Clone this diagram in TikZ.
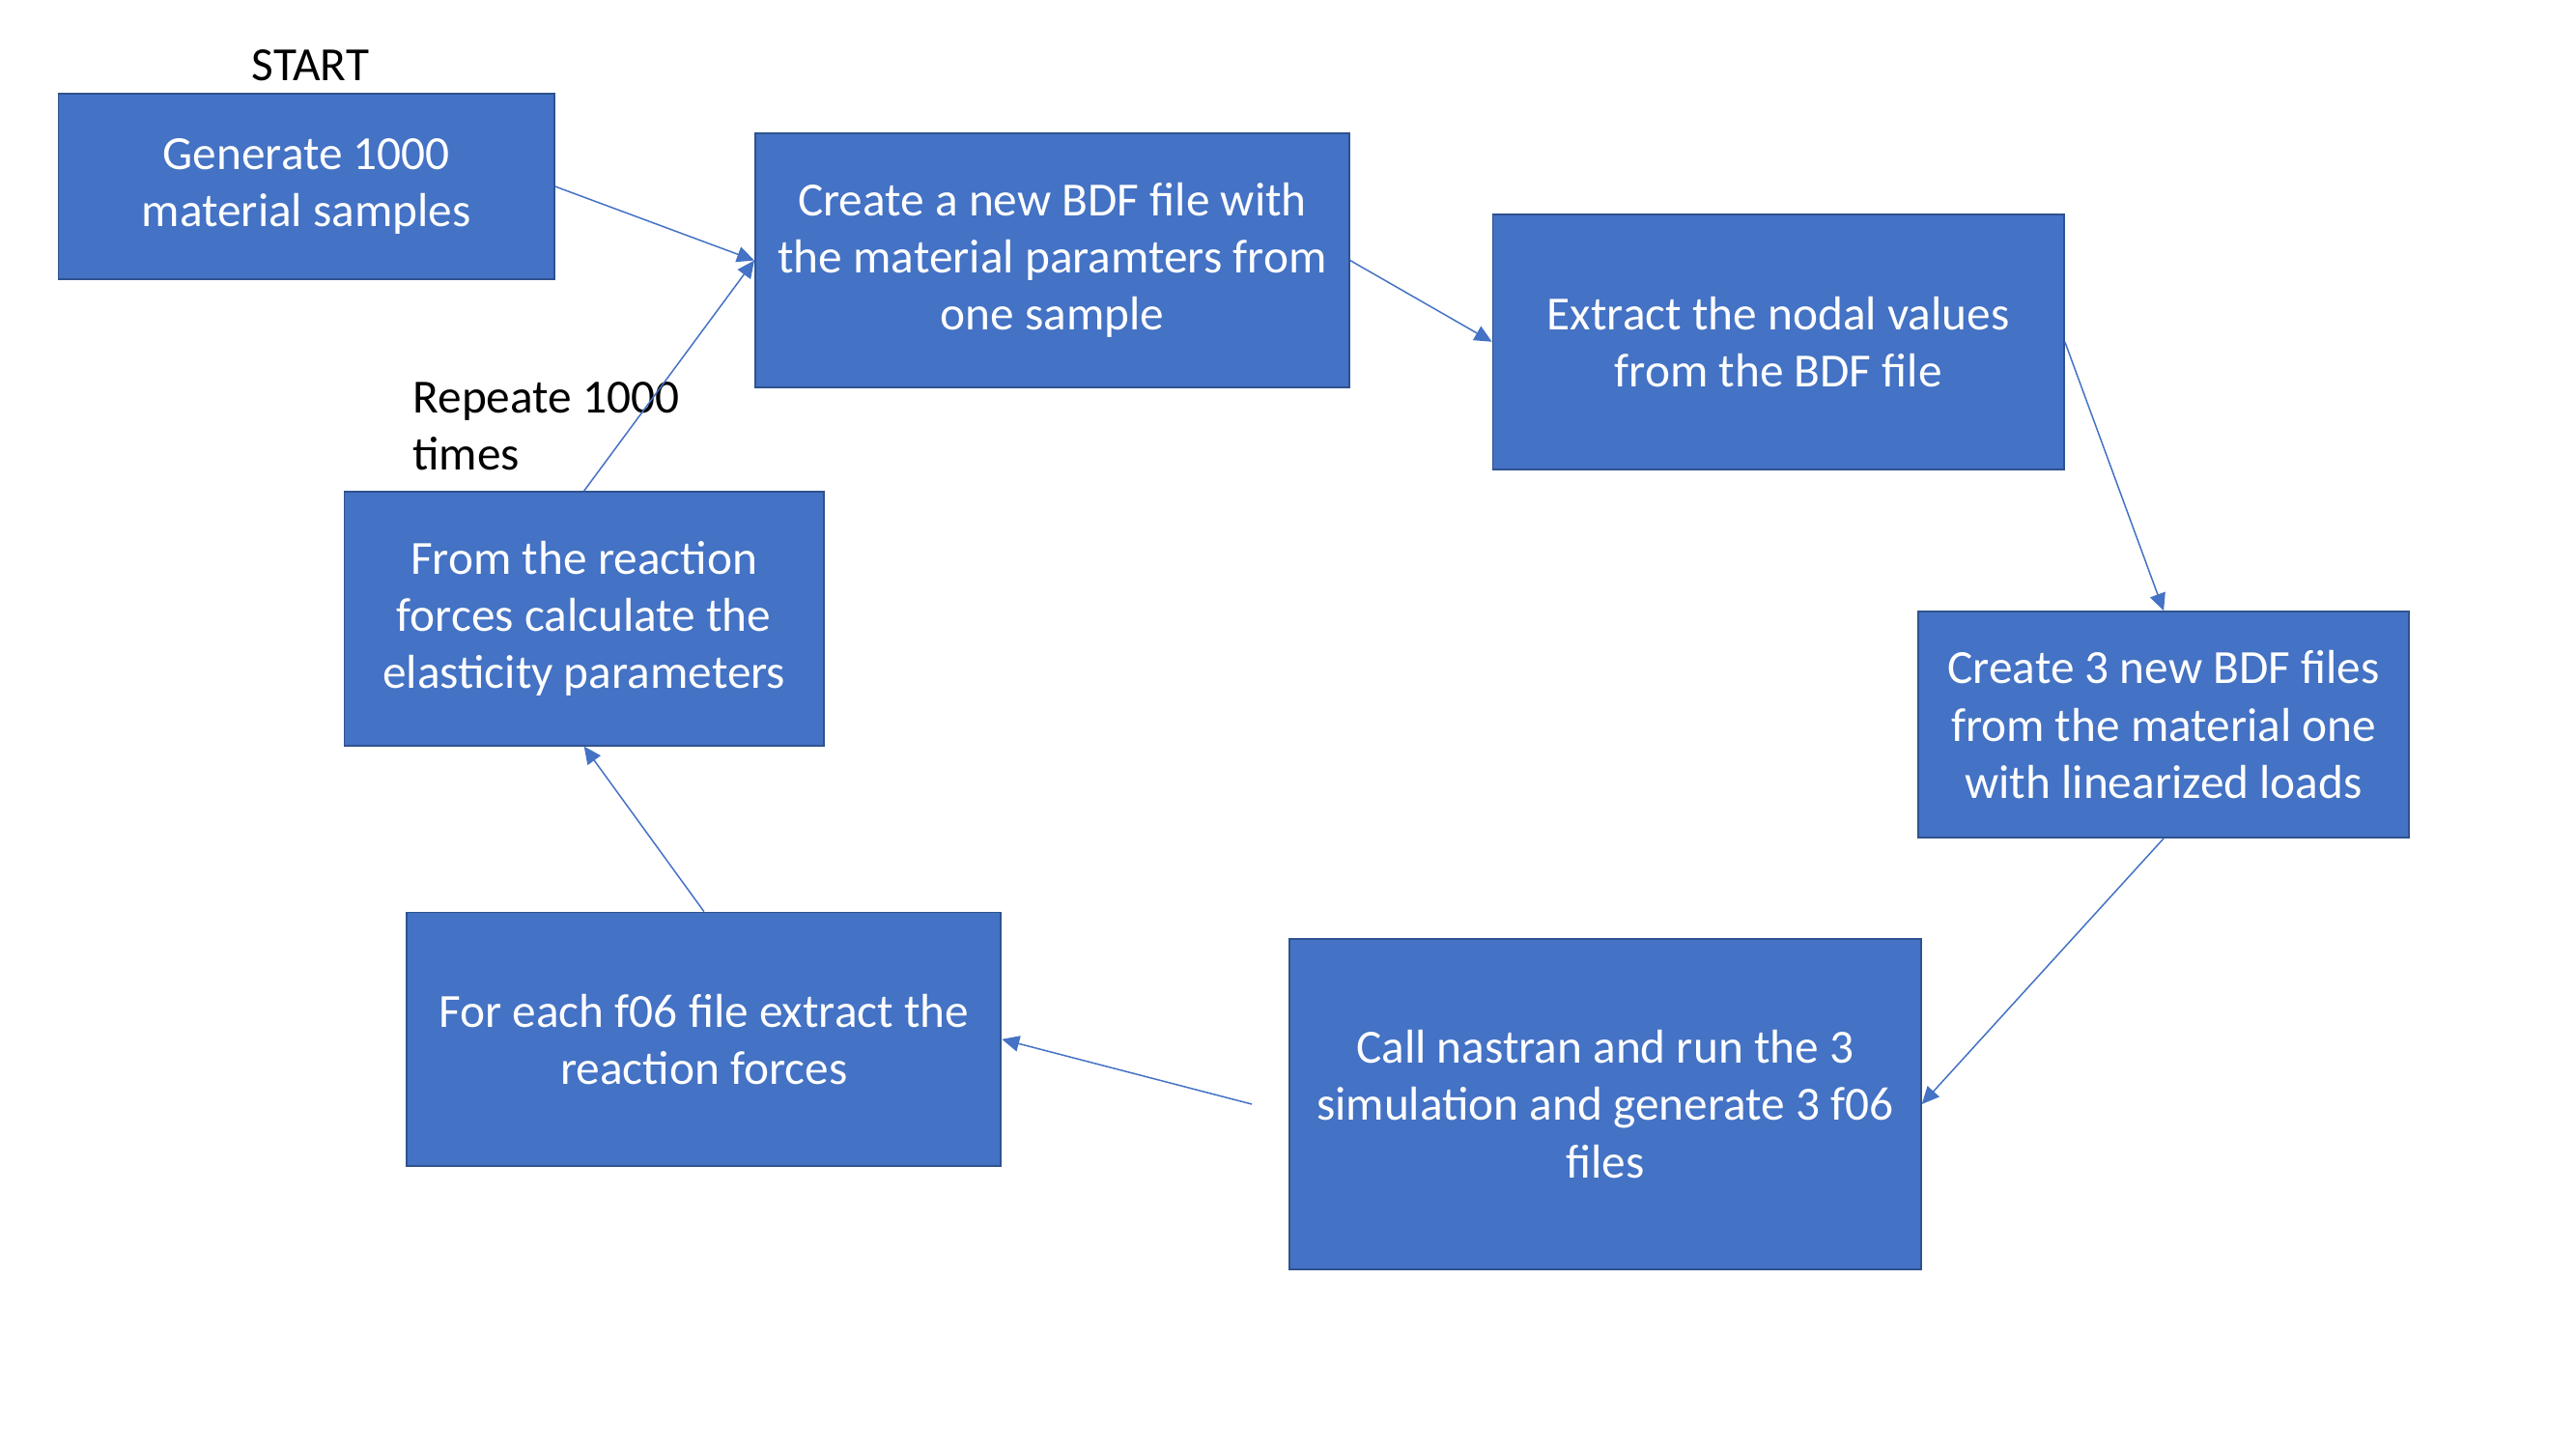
\documentclass[tikz,border=0pt]{standalone}
\usepackage{fontspec}
\setmainfont{Carlito}
\usetikzlibrary{arrows.meta}
\definecolor{boxblue}{HTML}{4472C4}
\definecolor{boxedge}{HTML}{2F528F}

\begin{document}
\begin{tikzpicture}[x=0.02cm,y=-0.02cm,
    stepbox/.style={draw=boxedge,line width=0.6pt,fill=boxblue,text=white,
        align=center,inner sep=0pt,font=\fontsize{16.5}{19.8}\selectfont},
    flow/.style={draw=boxblue,line width=0.5pt,-{Triangle[length=6pt,width=5.5pt]}},
    lbl/.style={font=\fontsize{16.5}{19.8}\selectfont,inner sep=0pt}]
    \useasboundingbox (0,0) rectangle (1568,882);
    % boxes
    \node[stepbox,minimum width=303*0.567pt,minimum height=113*0.567pt] (gen) at (186.5,113.5)
        {Generate 1000\\material samples};
    \node[stepbox,minimum width=363*0.567pt,minimum height=155*0.567pt] (bdf) at (640.5,158.5)
        {Create a new BDF file with\\the material paramters from\\one sample};
    \node[stepbox,minimum width=349*0.567pt,minimum height=156*0.567pt] (ext) at (1082.5,208)
        {Extract the nodal values\\from the BDF file};
    \node[stepbox,minimum width=300*0.567pt,minimum height=138*0.567pt] (three) at (1317,441)
        {Create 3 new BDF files\\from the material one\\with linearized loads};
    \node[stepbox,minimum width=386*0.567pt,minimum height=202*0.567pt] (nas) at (977,672)
        {Call nastran and run the 3\\simulation and generate 3 f06\\files};
    \node[stepbox,minimum width=363*0.567pt,minimum height=155*0.567pt] (f06) at (428.5,632.5)
        {For each f06 file extract the\\reaction forces};
    \node[stepbox,minimum width=293*0.567pt,minimum height=155*0.567pt] (el) at (355.5,376.5)
        {From the reaction\\forces calculate the\\elasticity parameters};
    % labels
    \node[lbl] (start) at (189,40) {START};
    \node[lbl,anchor=west,align=left] (rep) at (251,259.5) {Repeate 1000\\times};
    \coordinate (nasout) at (762,672);
    % arrows
    \foreach \a/\b in {gen.east/bdf.west, bdf.east/ext.west, ext.east/three.north,
        three.south/nas.east, nasout/f06.east, f06.north/el.south, el.north/bdf.west}
        \draw[flow] (\a) -- (\b);
\end{tikzpicture}
\end{document}
